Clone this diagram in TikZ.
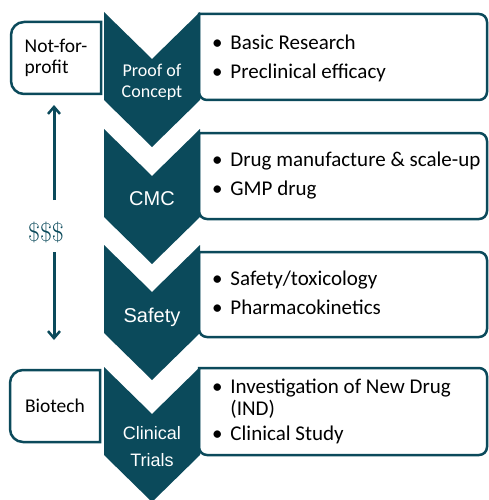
\documentclass[tikz,border=0pt]{standalone}
\usepackage{fontspec}
\setsansfont{Carlito}
\renewcommand*{\familydefault}{\sfdefault}
\newfontfamily\arialfont{Liberation Sans}
\definecolor{teal}{HTML}{0B4A5B}
\usetikzlibrary{arrows.meta}
\usetikzlibrary{positioning}
\tikzstyle{base}=[x=1pt, y=-1pt, inner sep=0pt, outer sep=0pt]
\tikzstyle{chev}=[fill=teal, draw=none]
\tikzstyle{stage}=[white, align=center]
\tikzstyle{infobox}=[draw=teal, line width=2.5pt, rounded corners=8pt]
\tikzstyle{sidebox}=[draw=teal, line width=2.5pt]
\tikzstyle{sidelbl}=[align=left, minimum width=90pt, minimum height=72pt, font=\fontsize{19.5}{21}\selectfont]
\tikzstyle{items}=[anchor=west, font=\fontsize{21}{24.5}\selectfont]
\tikzstyle{fund}=[teal, line width=3pt, -{Straight Barb[length=7pt, width=12pt, line width=2.5pt]}]
\newcommand*{\pt}{\textbullet\hspace{8pt}}

\begin{document}
\begin{tikzpicture}[base]
    \useasboundingbox (0,0) rectangle (488,500);
    % right hand boxes
    \draw [infobox] (199,14) -- (487,14) -- (487,100) -- (199,100) [sharp corners] -- cycle;
    \draw [infobox] (199,133) -- (487,133) -- (487,219) -- (199,219) [sharp corners] -- cycle;
    \draw [infobox] (199,252) -- (487,252) -- (487,337) -- (199,337) [sharp corners] -- cycle;
    \draw [infobox] (199,368) -- (487,368) -- (487,455) -- (199,455) [sharp corners] -- cycle;
    % chevrons
    \foreach \t in {12,129,245,367}
        \fill [chev] (104,\t) -- (152,\t+47) -- (200,\t) -- (200,\t+88)
            -- (152,\t+135) -- (104,\t+88) -- cycle;
    \node [stage, font=\fontsize{18}{21}\selectfont] (poc) at (152,82) {Proof of\\Concept};
    \node [stage, font=\arialfont\fontsize{20}{24}\selectfont] (cmc) at (152,199) {CMC};
    \node [stage, font=\arialfont\fontsize{20}{24}\selectfont] (safety) at (152,317) {Safety};
    \node [stage, font=\arialfont\fontsize{18}{27}\selectfont] (trials) at (152,447) {Clinical\\Trials};
    % bullet lists
    \node [items] (l1) at (212,59) {\begin{tabular}{@{}l@{}}
        \pt Basic Research\\[4pt] \pt Preclinical efficacy\end{tabular}};
    \node [items] (l2) at (212,176) {\begin{tabular}{@{}l@{}}
        \pt Drug manufacture \& scale-up\\[4pt] \pt GMP drug\end{tabular}};
    \node [items] (l3) at (212,295) {\begin{tabular}{@{}l@{}}
        \pt Safety/toxicology\\[4pt] \pt Pharmacokinetics\end{tabular}};
    \node [items] (l4) at (212,412) {\begin{tabular}{@{}l@{\hspace{8pt}}l@{}}
        \textbullet & Investigation of New Drug\\[-2pt] & (IND)\\[0pt] \textbullet & Clinical Study\end{tabular}};
    % funders
    \node [sidelbl] (nfp) at (56,58) {Not-for-\\profit};
    \node [sidelbl] (bio) at (55,406) {Biotech};
    \foreach \b in {nfp,bio}
        \draw [sidebox] (\b.north east) [rounded corners=13pt] -- (\b.north west)
            -- (\b.south west) [sharp corners] -- (\b.south east) -- cycle;
    \node [teal, font=\rmfamily\fontsize{26}{30}\selectfont] (cash) at (46,232) {\$\$\$};
    \coordinate (upfrom) at (54,200);
    \coordinate (downfrom) at (54,252);
    \draw [fund, shorten >=11pt] (upfrom) -- (upfrom |- nfp.south);
    \draw [fund, shorten >=30pt] (downfrom) -- (downfrom |- bio.north);
\end{tikzpicture}
\end{document}
